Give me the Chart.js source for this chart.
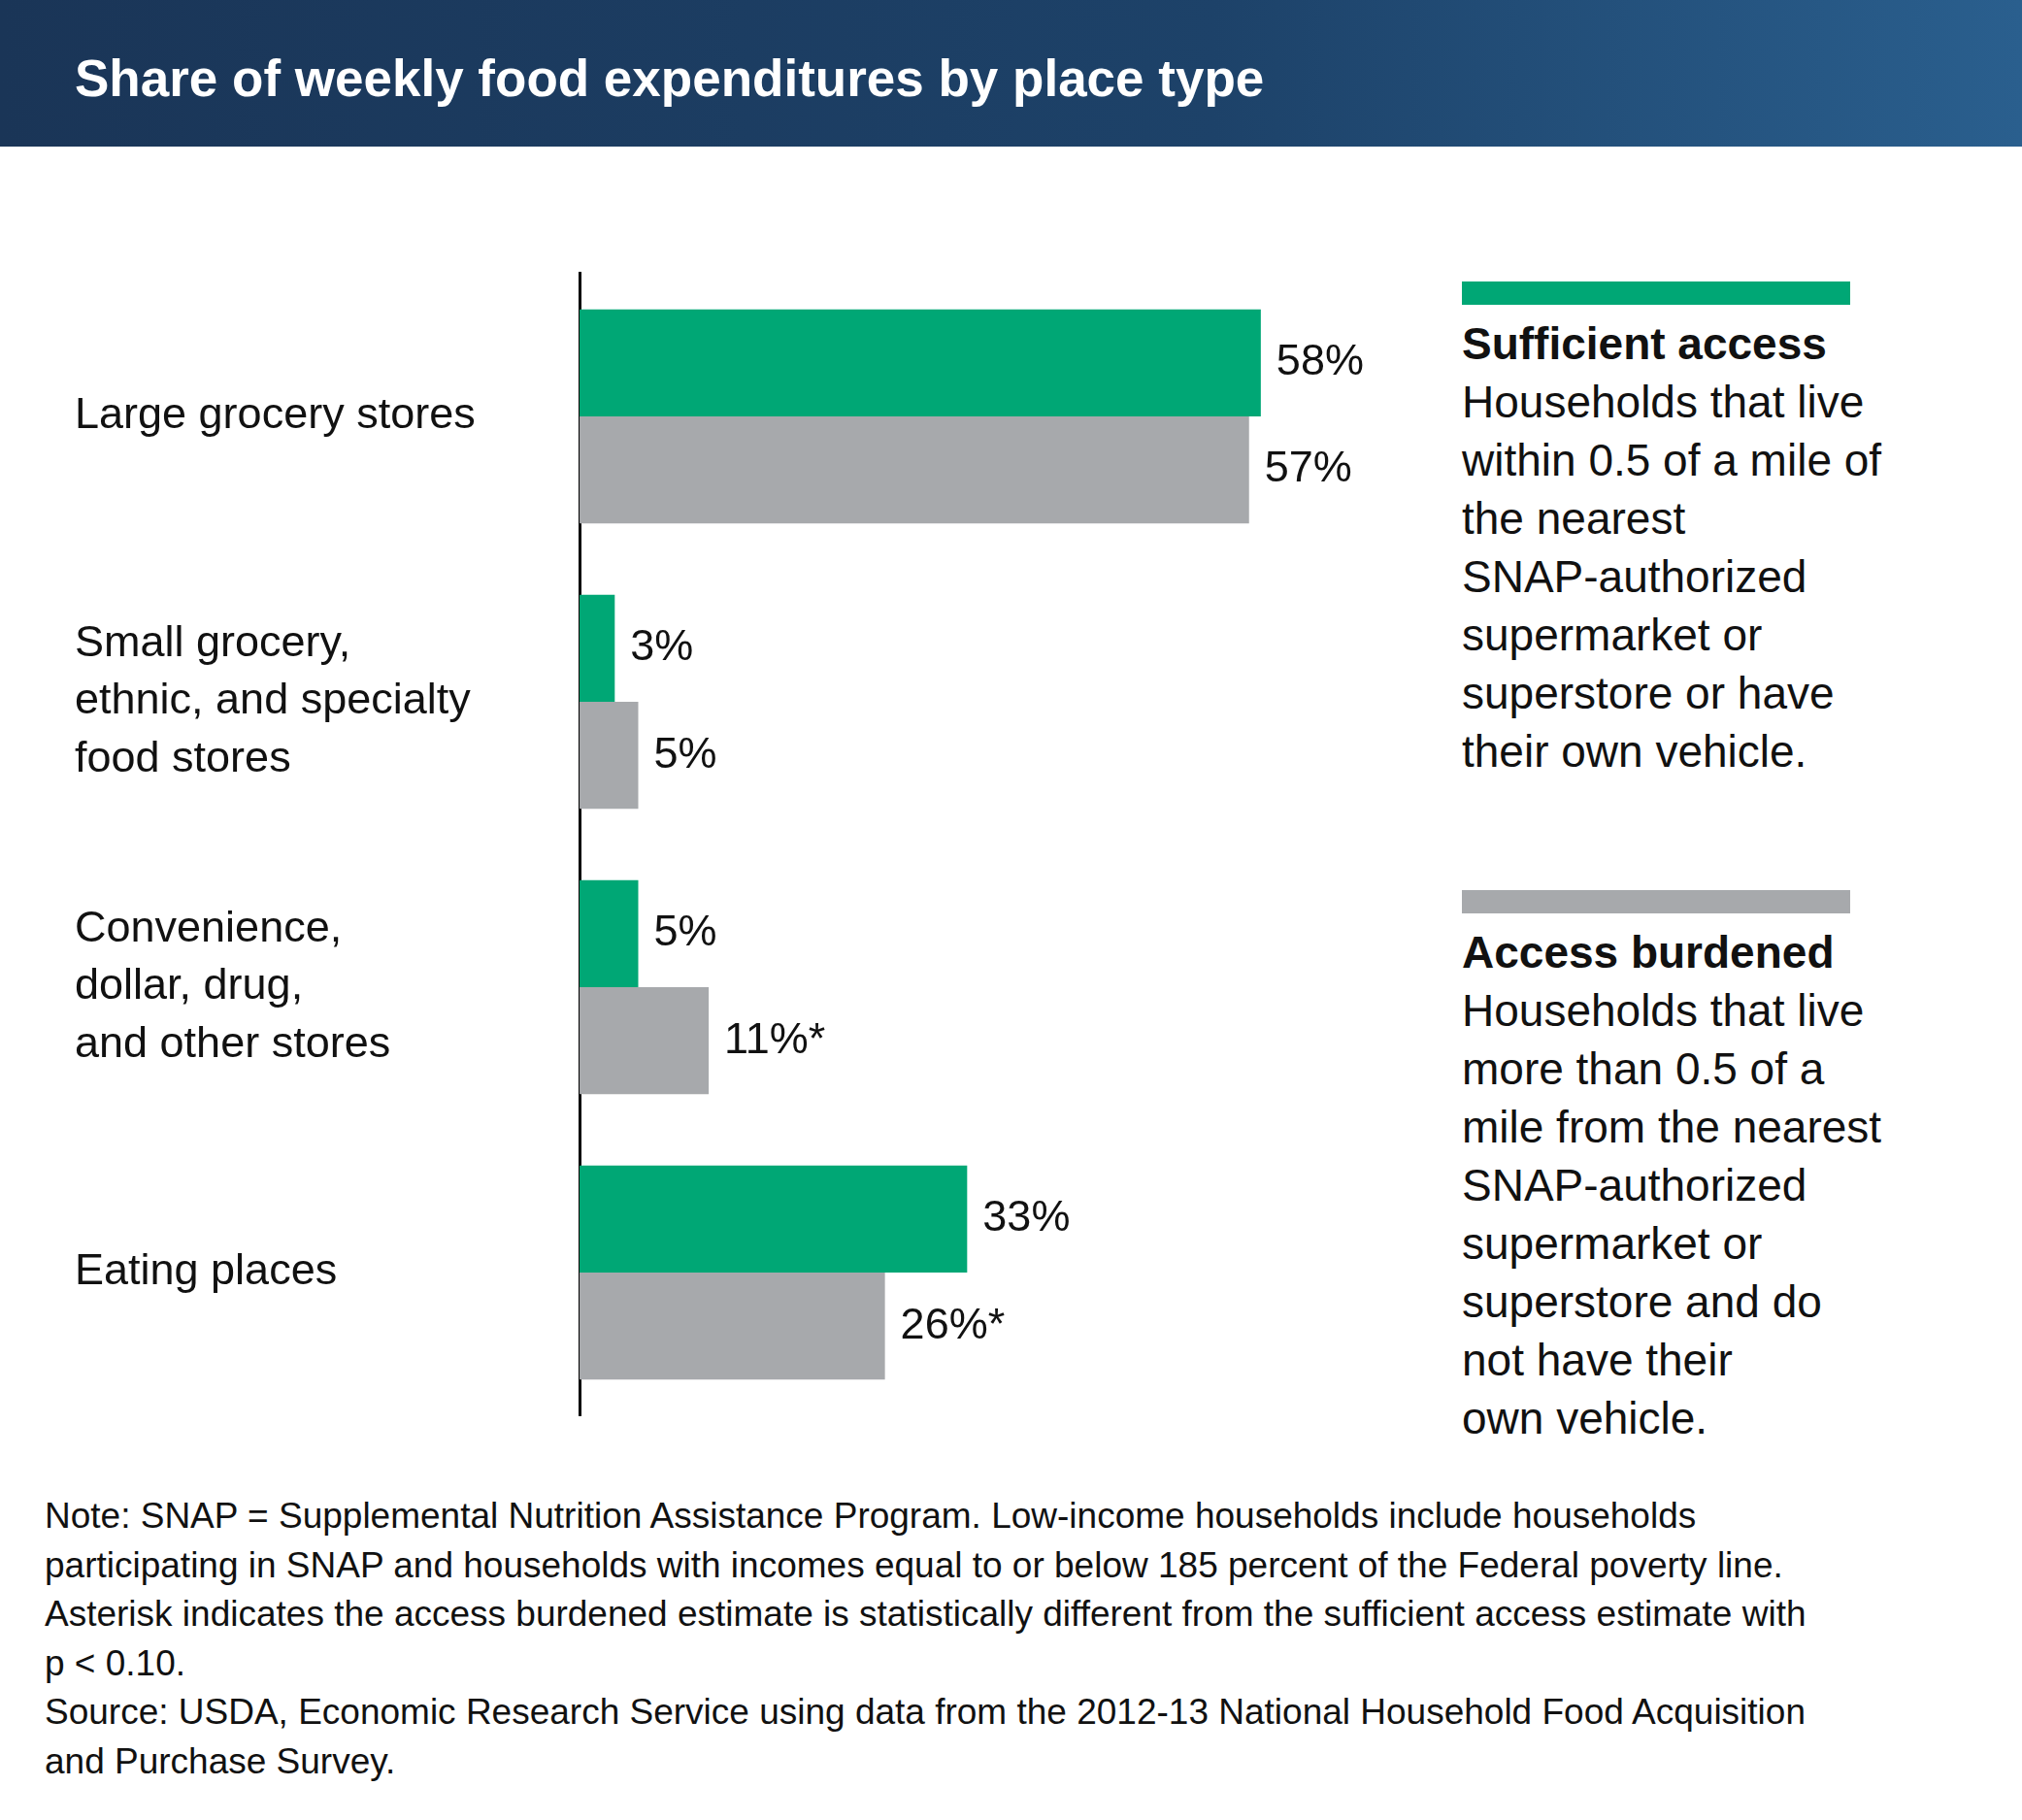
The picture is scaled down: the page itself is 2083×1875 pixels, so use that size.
<!DOCTYPE html>
<html>
<head>
<meta charset="utf-8">
<script src="https://cdn.jsdelivr.net/npm/chart.js@4"></script>
<style>
  body { margin: 0; background: #fff; font-family: "Liberation Sans", Arial, sans-serif; }
  #page { position: relative; width: 2083px; height: 1875px; overflow: hidden; }
  #header { position: absolute; left: 0; top: 0; width: 2083px; height: 151px; background: linear-gradient(90deg, #1a3557 0%, #1d4269 60%, #2a5f8e 100%); }
  #header h1 { margin: 0; position: absolute; left: 77px; top: 50px; color: #fff; font-size: 53px; font-weight: bold; }
  #chartBox { position: absolute; left: 0; top: 252px; width: 1461px; height: 1236px; }
  .leg { position: absolute; left: 1506px; font-size: 46px; line-height: 60px; color: #111; }
  .leg .sw { width: 400px; height: 24px; margin-bottom: 10px; }
  .leg b { display: block; }
  #note { position: absolute; left: 46px; top: 1537px; font-size: 37px; line-height: 50.5px; color: #111; width: 2020px; }
</style>
</head>
<body>
<div id="page">
  <div id="header"><h1>Share of weekly food expenditures by place type</h1></div>
  <div id="chartBox"><canvas id="chart" width="1461" height="1236"></canvas></div>
  <div class="leg" style="top:290px">
    <div class="sw" style="background:#00a775"></div>
    <b>Sufficient access</b>
    Households that live<br>within 0.5 of a mile of<br>the nearest<br>SNAP-authorized<br>supermarket or<br>superstore or have<br>their own vehicle.
  </div>
  <div class="leg" style="top:917px">
    <div class="sw" style="background:#a7a9ac"></div>
    <b>Access burdened</b>
    Households that live<br>more than 0.5 of a<br>mile from the nearest<br>SNAP-authorized<br>supermarket or<br>superstore and do<br>not have their<br>own vehicle.
  </div>
  <div id="note">
    Note: SNAP = Supplemental Nutrition Assistance Program. Low-income households include households<br>participating in SNAP and households with incomes equal to or below 185 percent of the Federal poverty line.<br>Asterisk indicates the access burdened estimate is statistically different from the sufficient access estimate with<br>p &lt; 0.10.<br>
    Source: USDA, Economic Research Service using data from the 2012-13 National Household Food Acquisition<br>and Purchase Survey.
  </div>
</div>
<script>
const categories = [
  ['Large grocery stores'],
  ['Small grocery,', 'ethnic, and specialty', 'food stores'],
  ['Convenience,', 'dollar, drug,', 'and other stores'],
  ['Eating places']
];
const sufficient = [58, 3, 5, 33];
const burdened = [57, 5, 11, 26];
const sufficientLabels = ['58%', '3%', '5%', '33%'];
const burdenedLabels = ['57%', '5%', '11%*', '26%*'];

const valueLabels = {
  id: 'valueLabels',
  afterDatasetsDraw(chart) {
    const ctx = chart.ctx;
    ctx.save();
    ctx.font = '45px "Liberation Sans", Arial, sans-serif';
    ctx.fillStyle = '#111';
    ctx.textBaseline = 'middle';
    const texts = [sufficientLabels, burdenedLabels];
    chart.data.datasets.forEach((ds, i) => {
      chart.getDatasetMeta(i).data.forEach((bar, j) => {
        ctx.fillText(texts[i][j], bar.x + 16, bar.y);
      });
    });
    ctx.restore();
  }
};

new Chart(document.getElementById('chart'), {
  type: 'bar',
  data: {
    labels: categories,
    datasets: [
      { label: 'Sufficient access', data: sufficient, backgroundColor: '#00a775' },
      { label: 'Access burdened', data: burdened, backgroundColor: '#a7a9ac' }
    ]
  },
  options: {
    indexAxis: 'y',
    responsive: false,
    animation: false,
    devicePixelRatio: 1,
    layout: { padding: { left: 77, right: 0, top: 0, bottom: 0 } },
    datasets: { bar: { barPercentage: 1, categoryPercentage: 0.75 } },
    plugins: { legend: { display: false }, tooltip: { enabled: false } },
    scales: {
      x: { display: false, min: 0, max: 71.4 },
      y: {
        grid: { display: false },
        border: { display: true, color: '#000', width: 3 },
        ticks: {
          crossAlign: 'far',
          color: '#111',
          font: { family: '"Liberation Sans", Arial, sans-serif', size: 45, lineHeight: 1.33 },
          padding: 0
        },
        afterFit(scale) { scale.width = 520; }
      }
    }
  },
  plugins: [valueLabels]
});
</script>
</body>
</html>
